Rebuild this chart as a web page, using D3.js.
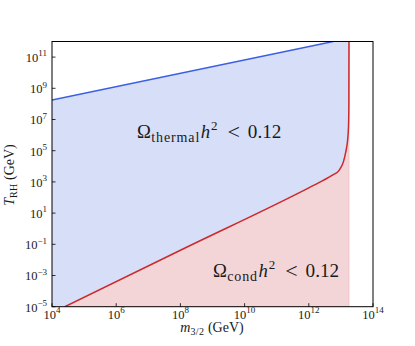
<!DOCTYPE html>
<html>
<head>
<meta charset="utf-8">
<script src="https://cdn.jsdelivr.net/npm/d3@7"></script>
<style>
  body { margin: 0; background: #fff; }
  svg { display: block; }
  text { font-family: "Liberation Serif", "DejaVu Serif", serif; fill: #1a1a1a; }
</style>
</head>
<body>
<div id="chart"></div>
<script>
// tick exponents on both log axes
const xTickExp = [4, 6, 8, 10, 12, 14];
const yTickExp = [-5, -3, -1, 1, 3, 5, 7, 9, 11];

// thermal bound (blue line), log10 values
const thermalLogM = [4, 12.76];
const thermalLogT = [8.25, 12];

// condensate bound (red curve), log10 values
const condLogM = [4.4, 8, 12, 12.45, 12.75, 12.95, 13.08, 13.16, 13.21, 13.238, 13.248, 13.252];
const condLogT = [-5, -1.38, 2.62, 3.1, 3.45, 3.76, 4.3, 5.0, 5.7, 6.6, 8.0, 12.2];

// where the red curve goes vertical
const mCutLog = 13.25;

const W = 415, H = 346;
const plotLeft = 52, plotRight = 373, plotTop = 41.5, plotBottom = 306.7;

const svg = d3.select("#chart").append("svg")
    .attr("width", W)
    .attr("height", H);

const x = d3.scaleLog().domain([1e4, 1e14]).range([plotLeft, plotRight]);
const y = d3.scaleLog().domain([1e-5, 1e12]).range([plotBottom, plotTop]);

svg.append("clipPath").attr("id", "plotclip")
  .append("rect")
    .attr("x", plotLeft).attr("y", plotTop)
    .attr("width", plotRight - plotLeft).attr("height", plotBottom - plotTop);

const plot = svg.append("g").attr("clip-path", "url(#plotclip)");

// blue region: under the thermal line, up to the cut
const thermalPts = thermalLogM.map((m, i) => [10 ** m, 10 ** thermalLogT[i]]);
const bluePts = thermalPts.concat([[10 ** mCutLog, 10 ** thermalLogT[thermalLogT.length - 1]]]);

plot.append("path")
    .datum(bluePts)
    .attr("fill", "#d6def8")
    .attr("d", d3.area()
        .x(d => x(d[0]))
        .y0(y(1e-5))
        .y1(d => y(d[1])));

// pink region: under the condensate curve
const condPts = condLogM.map((m, i) => [10 ** m, 10 ** condLogT[i]]);

plot.append("path")
    .datum(condPts)
    .attr("fill", "#f3d5d7")
    .attr("stroke", "#eebfc2")
    .attr("stroke-width", 0.8)
    .attr("d", d3.area()
        .curve(d3.curveMonotoneX)
        .x(d => x(d[0]))
        .y0(y(1e-5))
        .y1(d => y(d[1])));

// lines
plot.append("path")
    .datum(thermalPts)
    .attr("fill", "none")
    .attr("stroke", "#3a5fe3")
    .attr("stroke-width", 1.5)
    .attr("d", d3.line().x(d => x(d[0])).y(d => y(d[1])));

plot.append("path")
    .datum(condPts)
    .attr("fill", "none")
    .attr("stroke", "#cc2a2d")
    .attr("stroke-width", 1.5)
    .attr("d", d3.line()
        .curve(d3.curveMonotoneX)
        .x(d => x(d[0]))
        .y(d => y(d[1])));

// frame
svg.append("rect")
    .attr("x", plotLeft).attr("y", plotTop)
    .attr("width", plotRight - plotLeft).attr("height", plotBottom - plotTop)
    .attr("fill", "none")
    .attr("stroke", "#000")
    .attr("stroke-width", 1);

function expLabel(t, e) {
    t.append("tspan").text("10");
    t.append("tspan").attr("dy", -5.5).attr("font-size", 9)
        .text(e < 0 ? "\u2212" + (-e) : e);
}

// ticks (pointing inward)
const xt = svg.append("g");
xTickExp.forEach(e => {
    const px = x(10 ** e);
    xt.append("line")
        .attr("x1", px).attr("x2", px)
        .attr("y1", plotBottom).attr("y2", plotBottom - 3.5)
        .attr("stroke", "#000").attr("stroke-width", 0.8);
    const t = xt.append("text")
        .attr("x", px).attr("y", plotBottom + 11.8)
        .attr("text-anchor", "middle")
        .attr("font-size", 12.5);
    expLabel(t, e);
});

const yt = svg.append("g");
yTickExp.forEach(e => {
    const py = y(10 ** e);
    yt.append("line")
        .attr("x1", plotLeft).attr("x2", plotLeft + 3.5)
        .attr("y1", py).attr("y2", py)
        .attr("stroke", "#000").attr("stroke-width", 0.8);
    const t = yt.append("text")
        .attr("x", 47).attr("y", py + 4.8)
        .attr("text-anchor", "end")
        .attr("font-size", 12.5);
    expLabel(t, e);
});

// axis labels
const xl = svg.append("text")
    .attr("x", 212).attr("y", 332)
    .attr("text-anchor", "middle")
    .attr("font-size", 14);
xl.append("tspan").attr("font-style", "italic").text("m");
xl.append("tspan").attr("dy", 3).attr("font-size", 10).attr("letter-spacing", 0.4).text("3/2");
xl.append("tspan").attr("dy", -3).text(" (GeV)");

const yl = svg.append("text")
    .attr("transform", "translate(14,175) rotate(-90)")
    .attr("text-anchor", "middle")
    .attr("font-size", 14);
yl.append("tspan").attr("font-style", "italic").text("T");
yl.append("tspan").attr("dy", 3).attr("font-size", 10).attr("letter-spacing", 0.3).text("RH");
yl.append("tspan").attr("dy", -3).text(" (GeV)");

// region annotations, laid out piece by piece
function annot(px, py, sub) {
    const g = svg.append("g");
    let cx = px;
    function piece(str, size, dy, italic, gapAfter, spacing) {
        const t = g.append("text")
            .attr("x", cx).attr("y", py + dy)
            .attr("font-size", size)
            .attr("letter-spacing", spacing || 0)
            .attr("font-style", italic ? "italic" : "normal")
            .text(str);
        cx += t.node().getComputedTextLength() + gapAfter;
    }
    piece("\u03A9", 18.7, 0, false, 0.3);
    piece(sub, 14, 4, false, 0.5, 0.9);
    piece("h", 18.7, 0, true, 0.8);
    piece("2", 13, -8, false, 10);
    piece("<", 22, 0.5, false, 8);
    piece("0.12", 19.2, 0, false, 0);
}
annot(137, 138, "thermal");
annot(213, 277, "cond");
</script>
</body>
</html>
